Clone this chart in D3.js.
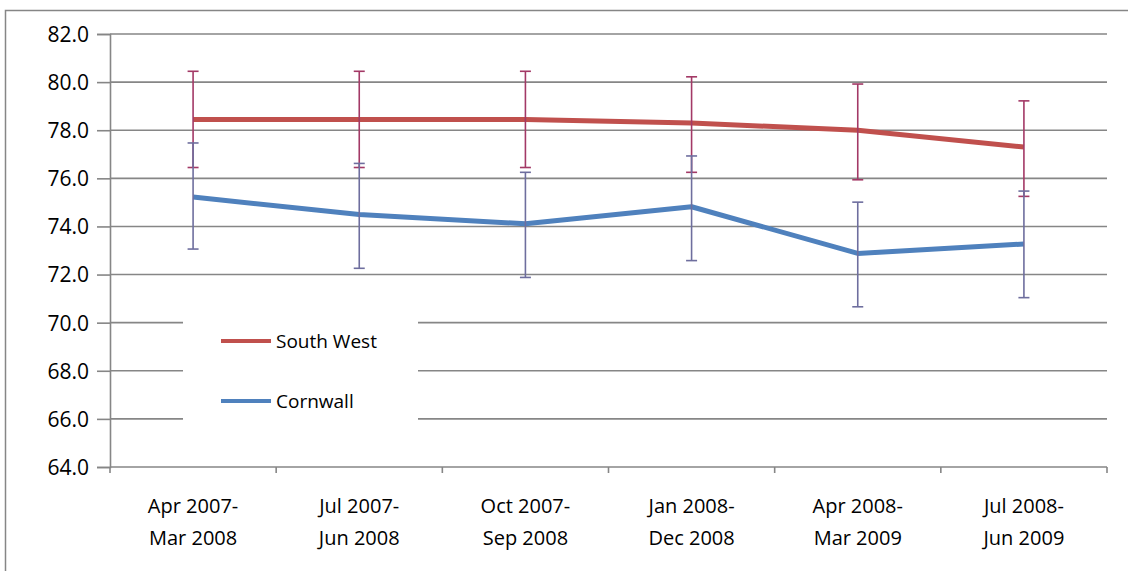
<!DOCTYPE html>
<html><head><meta charset="utf-8">
<script src="https://cdn.jsdelivr.net/npm/d3@7"></script>
<style>body{margin:0;background:#fff}svg{display:block}text{font-family:"Open Sans","Noto Sans",sans-serif;fill:#000}</style>
</head><body><svg id="c" width="1128" height="571"></svg>
<script>
const categories = [["Apr 2007-","Mar 2008"],["Jul 2007-","Jun 2008"],["Oct 2007-","Sep 2008"],["Jan 2008-","Dec 2008"],["Apr 2008-","Mar 2009"],["Jul 2008-","Jun 2009"]];
const southWest = [78.45, 78.45, 78.45, 78.3, 78.0, 77.3];
const southWestUpper = [80.45, 80.45, 80.45, 80.22, 79.92, 79.22];
const southWestLower = [76.45, 76.45, 76.45, 76.25, 75.94, 75.25];
const cornwall = [75.22, 74.5, 74.11, 74.82, 72.88, 73.27];
const cornwallUpper = [77.47, 76.62, 76.25, 76.93, 75.01, 75.47];
const cornwallLower = [73.06, 72.26, 71.88, 72.58, 70.66, 71.04];
const yTicks = [64,66,68,70,72,74,76,78,80,82];

const svg = d3.select("#c");
svg.append("rect").attr("x",5.5).attr("y",10.5).attr("width",1130).attr("height",570).attr("fill","none").attr("stroke","#868686").attr("stroke-width",1.5);

const L=110,R=1107,T=34,B=467;
const x = d3.scaleBand().domain(d3.range(categories.length)).range([L,R]);
const y = d3.scaleLinear().domain([64,82]).range([B,T]);
const cx = i => x(i)+x.bandwidth()/2;

// grid
const g = svg.append("g");
yTicks.filter(v=>v>64).forEach(v=>{
  g.append("line").attr("x1",L).attr("x2",R).attr("y1",y(v)).attr("y2",y(v)).attr("stroke","#868686").attr("stroke-width",1.6);
});
// y axis
const ya = svg.append("g").attr("transform",`translate(${L},0)`).call(d3.axisLeft(y).tickValues(yTicks).tickFormat(d3.format(".1f")).tickSize(13).tickPadding(8));
ya.select(".domain").attr("stroke","#868686").attr("stroke-width",1.6);
ya.selectAll(".tick line").attr("stroke","#868686").attr("stroke-width",1.6);
ya.selectAll("text").style("font-size","21px").attr("fill","#000").attr("dy","0.35em");

// x axis
const xa = svg.append("g").attr("transform",`translate(0,${B})`);
xa.append("line").attr("x1",L).attr("x2",R).attr("stroke","#868686").attr("stroke-width",1.6);
d3.range(categories.length+1).forEach(i=>{
  const xx = i<categories.length? x(i): R;
  xa.append("line").attr("x1",xx).attr("x2",xx).attr("y1",0).attr("y2",6).attr("stroke","#868686").attr("stroke-width",1.6);
});
categories.forEach((c,i)=>{
  const t = xa.append("text").attr("x",cx(i)).attr("y",46).attr("text-anchor","middle").style("font-size","20px");
  t.append("tspan").attr("x",cx(i)).text(c[0]);
  t.append("tspan").attr("x",cx(i)).attr("dy",32).text(c[1]);
});

// legend background
svg.append("rect").attr("x",183).attr("y",300).attr("width",235).attr("height",140).attr("fill","#fff");

function errBars(up, lo, color){
  const eg = svg.append("g").attr("stroke",color).attr("stroke-width",1.6);
  up.forEach((u,i)=>{
    eg.append("line").attr("x1",cx(i)).attr("x2",cx(i)).attr("y1",y(u)).attr("y2",y(lo[i]));
    eg.append("line").attr("x1",cx(i)-5.5).attr("x2",cx(i)+5.5).attr("y1",y(u)).attr("y2",y(u));
    eg.append("line").attr("x1",cx(i)-5.5).attr("x2",cx(i)+5.5).attr("y1",y(lo[i])).attr("y2",y(lo[i]));
  });
}
const line = d3.line().x((d,i)=>cx(i)).y(d=>y(d));
svg.append("path").datum(southWest).attr("d",line).attr("fill","none").attr("stroke","#C0504D").attr("stroke-width",5).attr("stroke-linejoin","round");
errBars(southWestUpper, southWestLower, "#A33966");
svg.append("path").datum(cornwall).attr("d",line).attr("fill","none").attr("stroke","#4F81BD").attr("stroke-width",5).attr("stroke-linejoin","round");
errBars(cornwallUpper, cornwallLower, "#6E6E9E");

// legend
const leg = [["South West","#C0504D",341],["Cornwall","#4F81BD",401]];
leg.forEach(([name,col,yy])=>{
  svg.append("line").attr("x1",221).attr("x2",271).attr("y1",yy).attr("y2",yy).attr("stroke",col).attr("stroke-width",4);
  svg.append("text").attr("x",276).attr("y",yy+7).style("font-size","19px").text(name);
});
</script></body></html>
